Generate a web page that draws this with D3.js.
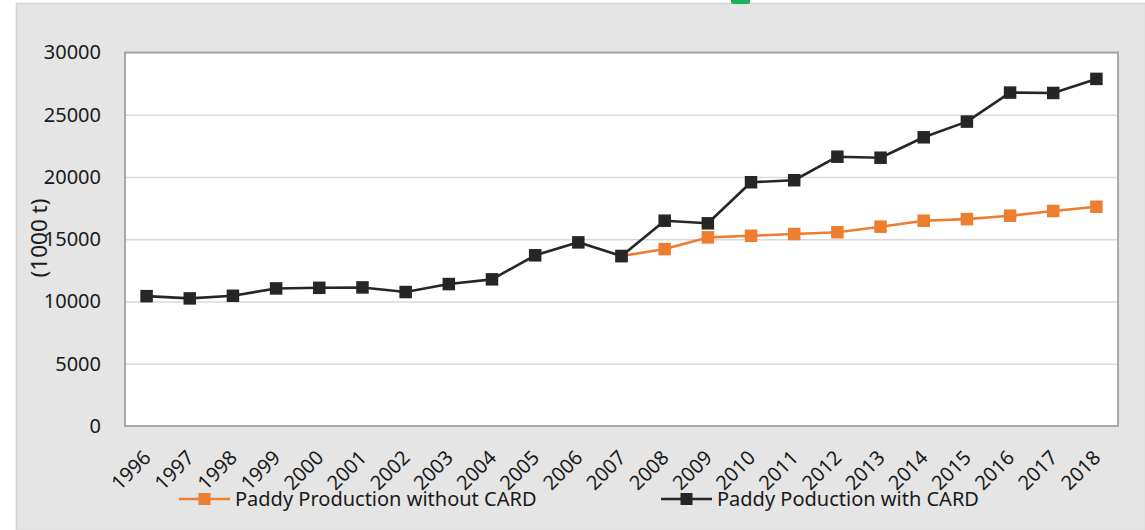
<!DOCTYPE html>
<html>
<head>
<meta charset="utf-8">
<script src="https://cdn.jsdelivr.net/npm/d3@7"></script>
<style>
  html, body { margin: 0; padding: 0; background: #ffffff; }
  svg { display: block; }
  text { font-family: "Noto Sans", "Open Sans", sans-serif; fill: #1a1a1a; }
</style>
</head>
<body>
<svg id="chart" width="1145" height="530"></svg>
<script>
// Paddy production (1000 t), 1996-2018
const years = ["1996","1997","1998","1999","2000","2001","2002","2003","2004","2005","2006","2007",
               "2008","2009","2010","2011","2012","2013","2014","2015","2016","2017","2018"];
const withCard = [10430,10250,10460,11050,11100,11130,10760,11400,11780,13710,14750,13650,
                  16490,16280,19580,19740,21630,21550,23190,24450,26780,26750,27880];
const withoutCard = [null,null,null,null,null,null,null,null,null,null,null,13650,
                     14210,15150,15280,15420,15560,16010,16490,16620,16890,17270,17610];
const yTicks = [0,5000,10000,15000,20000,25000,30000];
const seriesNames = ["Paddy Production without CARD", "Paddy Poduction with CARD"];
const yTitle = "(1000 t)";

const svg = d3.select("#chart");
const W = 1145, H = 530;
const plot = { left: 125, top: 52.5, right: 1118, bottom: 426 };
const fontSize = 20;

// chart panel
svg.append("rect").attr("x", 16.5).attr("y", 3.5).attr("width", W - 16).attr("height", H - 3)
  .attr("fill", "#e5e5e5").attr("stroke", "#d4d4d4").attr("stroke-width", 1.5);
// small green tab at the top edge
svg.append("rect").attr("x", 731).attr("y", -4).attr("width", 19).attr("height", 8).attr("rx", 2)
  .attr("fill", "#1cb25a");

const x = d3.scalePoint().domain(years).range([plot.left, plot.right]).padding(0.5);
const y = d3.scaleLinear().domain([0, 30000]).range([plot.bottom, plot.top]);

// plot area
svg.append("rect").attr("x", plot.left).attr("y", plot.top)
  .attr("width", plot.right - plot.left).attr("height", plot.bottom - plot.top)
  .attr("fill", "#ffffff");

// horizontal gridlines + y labels
const yAxis = svg.append("g").attr("transform", `translate(${plot.left},0)`)
  .call(d3.axisLeft(y).tickValues(yTicks).tickSize(-(plot.right - plot.left)).tickPadding(24)
        .tickFormat(d3.format("d")));
yAxis.select(".domain").remove();
yAxis.selectAll(".tick line").attr("stroke", "#d9d9d9").attr("stroke-width", 1.5);
yAxis.selectAll(".tick text").attr("font-size", fontSize).attr("fill", "#1a1a1a")
  .attr("font-family", "Noto Sans, Open Sans, sans-serif");

// plot border
svg.append("rect").attr("x", plot.left).attr("y", plot.top)
  .attr("width", plot.right - plot.left).attr("height", plot.bottom - plot.top)
  .attr("fill", "none").attr("stroke", "#a8a8a8").attr("stroke-width", 2);

// x labels, rotated
const xAxis = svg.append("g").attr("transform", `translate(0,${plot.bottom})`)
  .call(d3.axisBottom(x).tickSize(0).tickPadding(0));
xAxis.select(".domain").remove();
xAxis.selectAll(".tick text")
  .attr("font-size", fontSize).attr("fill", "#1a1a1a")
  .attr("font-family", "Noto Sans, Open Sans, sans-serif")
  .attr("text-anchor", "end")
  .attr("dy", null).attr("y", 0)
  .attr("transform", "translate(5,33) rotate(-45)");

// y axis title
svg.append("text").attr("transform", "translate(46.5,238) rotate(-90)")
  .attr("text-anchor", "middle").attr("font-size", 22.5).text(yTitle);

// series
const series = [
  { name: seriesNames[0], values: withoutCard, color: "#ed7d31" },
  { name: seriesNames[1], values: withCard, color: "#262626" }
];
const line = d3.line().defined(d => d.v != null).x(d => x(d.year)).y(d => y(d.v));
const ms = 12.5;

series.forEach(s => {
  const pts = years.map((yr, i) => ({ year: yr, v: s.values[i] }));
  svg.append("path").datum(pts).attr("d", line)
    .attr("fill", "none").attr("stroke", s.color).attr("stroke-width", 2.6).attr("stroke-linejoin", "round");
  svg.append("g").selectAll("rect").data(pts.filter(d => d.v != null)).join("rect")
    .attr("x", d => x(d.year) - ms / 2).attr("y", d => y(d.v) - ms / 2)
    .attr("width", ms).attr("height", ms).attr("fill", s.color);
});

// legend
const legendX = [179, 661];
series.forEach((s, i) => {
  const g = svg.append("g").attr("transform", `translate(${legendX[i]},499)`);
  g.append("line").attr("x1", 0).attr("x2", 51).attr("y1", 0).attr("y2", 0)
    .attr("stroke", s.color).attr("stroke-width", 2.6);
  g.append("rect").attr("x", 25.5 - 6).attr("y", -6).attr("width", 12).attr("height", 12).attr("fill", s.color);
  g.append("text").attr("x", 56).attr("y", 0).attr("dy", "0.35em").attr("font-size", fontSize).text(s.name);
});
</script>
</body>
</html>
